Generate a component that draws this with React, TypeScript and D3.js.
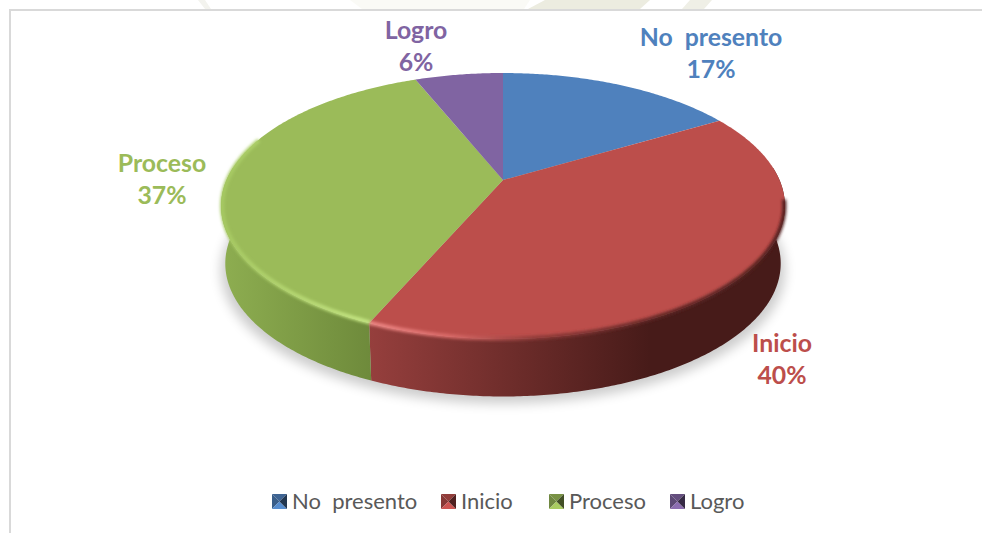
import React from "react";
import * as d3 from "d3";

const categories = ["No  presento", "Inicio", "Proceso", "Logro"];
const values = [16.5, 40, 37.4, 6.1];
const colors = ["#4f81bd", "#bc4e4b", "#9bbb59", "#8064a2"];
const sideStops = [
  ["#3c6392", "#3c6392"],
  ["#963f3d", "#471b19"],
  ["#8dad50", "#6e8a3b"],
  ["#5f4a7a", "#5f4a7a"],
];
const labelAnchors = [
  [711, 46],
  [782, 352],
  [162, 172],
  [416, 39],
];
const legendSlots = [272, 441, 549, 670];
const watermark = [
  { pts: "198,0 205,0 211,9 205,9", fill: "#f3f3ee" },
  { pts: "350,0 530,0 524,9 362,9", fill: "#fafaf6" },
  { pts: "545,0 650,0 640,9 528,9", fill: "#ecece0" },
  { pts: "690,0 712,0 704,9 682,9", fill: "#efefe6" },
];

const W = 982, H = 533;
const CX = 503, CY = 180, A = 276.5, B = 127.9, K = 0.1955;
const DEPTH = 57.5, BASE = 0.985;

const proj = (t: number, r = 1, dy = 0, sc = 1): [number, number] => {
  const x = Math.sin(t) * r, y = -Math.cos(t) * r;
  const w = 1 - K * y;
  return [CX + (A * sc * x) / w, CY + (B * y) / w + dy];
};
const samples = (a: number, b: number) => {
  const n = Math.max(2, Math.ceil(Math.abs(b - a) / 0.01));
  return d3.range(n + 1).map((i) => a + ((b - a) * i) / n);
};
const line = d3.line<[number, number]>();

const pie = d3.pie<number>().sort(null)(values);
const LO = Math.PI / 2 - 0.1, HI = (3 * Math.PI) / 2 + 0.1;

function Bevel({ x, y, c }: { x: number; y: number; c: string }) {
  const s = 15, m = s / 2;
  const col = d3.color(c)!;
  const tris: [string, number[][]][] = [
    [col.darker(0.7).formatHex(), [[0, 0], [s, 0], [m, m]]],
    [col.darker(0.9).formatHex(), [[0, 0], [0, s], [m, m]]],
    [col.brighter(0.25).formatHex(), [[0, s], [s, s], [m, m]]],
    [col.darker(2.4).formatHex(), [[s, 0], [s, s], [m, m]]],
  ];
  return (
    <g transform={`translate(${x},${y})`}>
      {tris.map(([f, p], i) => (
        <polygon key={i} points={p.map((q) => q.join(",")).join(" ")} fill={f} />
      ))}
    </g>
  );
}

export default function App() {
  const font = "Lato, Carlito, 'Open Sans', sans-serif";
  return (
    <svg width={W} height={H} style={{ position: "fixed", left: 0, top: 0, background: "#fff" }} fontFamily={font}>
      <defs>
        <filter id="sh" x="-20%" y="-20%" width="140%" height="140%"><feGaussianBlur stdDeviation="6" /></filter>
        <filter id="rim" x="-10%" y="-10%" width="120%" height="120%"><feGaussianBlur stdDeviation="1.6" /></filter>
        {pie.map((d, i) => (
          <linearGradient key={i} id={`side${i}`} gradientUnits="userSpaceOnUse"
            x1={i === 1 ? 368 : 225} x2={i === 1 ? 650 : 372} y1={0} y2={0}>
            <stop offset="0" stopColor={sideStops[i][0]} />
            <stop offset="1" stopColor={sideStops[i][1]} />
          </linearGradient>
        ))}
        <linearGradient id="rimRed" gradientUnits="userSpaceOnUse" x1={368} x2={785} y1={0} y2={0}>
          <stop offset="0" stopColor="#f08a88" />
          <stop offset="0.2" stopColor="#d96a68" />
          <stop offset="0.4" stopColor="#8e3a38" />
          <stop offset="0.7" stopColor="#5e2524" />
          <stop offset="1" stopColor="#4e1e1d" />
        </linearGradient>
        <linearGradient id="rimGreen" gradientUnits="userSpaceOnUse" x1={221} x2={368} y1={0} y2={0}>
          <stop offset="0" stopColor="#a6c962" />
          <stop offset="1" stopColor="#c6e784" />
        </linearGradient>
      </defs>

      {watermark.map((m, i) => <polygon key={i} points={m.pts} fill={m.fill} />)}
      <rect x={10} y={10} width={W + 10} height={H + 10} fill="#fff" stroke="#d9d9d9" strokeWidth={2} />

      <path
        d={line(samples(0, Math.PI * 2).map((t) => proj(t, 1, DEPTH + 7, 1)))! + "Z"}
        fill="#000" opacity={0.2} filter="url(#sh)"
      />

      {pie.map((d, i) => {
        const a = Math.max(d.startAngle, LO), b = Math.min(d.endAngle, HI);
        if (b <= a) return null;
        const ts = samples(a, b);
        const pts = [
          ...ts.map((t) => proj(t)),
          ...ts.slice().reverse().map((t) => proj(t, 1, DEPTH, BASE)),
        ];
        return <path key={i} d={line(pts)! + "Z"} fill={`url(#side${i})`} />;
      })}

      {pie.map((d, i) => {
        const pts = [[CX, CY] as [number, number], ...samples(d.startAngle, d.endAngle).map((t) => proj(t))];
        return <path key={i} d={line(pts)! + "Z"} fill={colors[i]} />;
      })}

      <path d={line(samples(1.72, pie[1].endAngle).map((t) => proj(t, 0.998)))!}
        fill="none" stroke="url(#rimRed)" strokeWidth={4} filter="url(#rim)" />
      <path d={line(samples(pie[2].startAngle, pie[2].startAngle + 1.5).map((t) => proj(t, 0.996)))!}
        fill="none" stroke="url(#rimGreen)" strokeWidth={4} filter="url(#rim)" />

      {categories.map((c, i) => (
        <text key={i} x={labelAnchors[i][0]} y={labelAnchors[i][1]} fontSize={24.8} fontWeight={700}
          fill={colors[i]} textAnchor="middle">
          <tspan x={labelAnchors[i][0]} style={{ whiteSpace: "pre" }}>{c}</tspan>
          <tspan x={labelAnchors[i][0]} dy={32}>{Math.round(values[i])}%</tspan>
        </text>
      ))}

      {categories.map((c, i) => (
        <g key={i}>
          <Bevel x={legendSlots[i]} y={494} c={colors[i]} />
          <text x={legendSlots[i] + 20} y={509} fontSize={22} fill="#595959" style={{ whiteSpace: "pre" }}>{c}</text>
        </g>
      ))}
    </svg>
  );
}
